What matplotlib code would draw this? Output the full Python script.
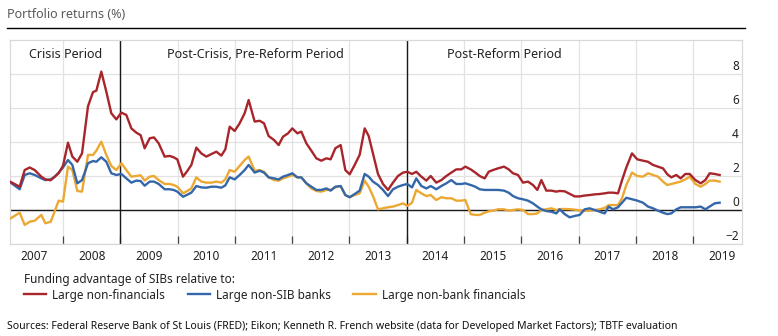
import matplotlib
matplotlib.use('Agg')
import matplotlib.pyplot as plt
import matplotlib.transforms as mtransforms
from matplotlib.lines import Line2D

# ---------------- data ----------------
dates = [
    2007.087, 2007.244, 2007.331, 2007.418, 2007.506, 2007.622, 2007.692, 2007.785,
    2007.855, 2007.924, 2008.000, 2008.087, 2008.163, 2008.250, 2008.332, 2008.436,
    2008.524, 2008.582, 2008.669, 2008.756, 2008.843, 2008.931, 2009.018, 2009.105,
    2009.193, 2009.280, 2009.355, 2009.425, 2009.513, 2009.588, 2009.670, 2009.774,
    2009.862, 2009.931, 2009.995, 2010.094, 2010.170, 2010.240, 2010.327, 2010.414,
    2010.501, 2010.589, 2010.676, 2010.763, 2010.833, 2010.909, 2010.996, 2011.083,
    2011.170, 2011.240,
    2011.345, 2011.432, 2011.508, 2011.589, 2011.682, 2011.764, 2011.839, 2011.927,
    2012.002, 2012.090, 2012.159, 2012.247, 2012.334, 2012.421, 2012.508, 2012.596,
    2012.671, 2012.753, 2012.846, 2012.927, 2013.003, 2013.090, 2013.177, 2013.265,
    2013.335,
    2013.410, 2013.497, 2013.585, 2013.672, 2013.759, 2013.846, 2013.934, 2014.009,
    2014.091, 2014.166, 2014.254, 2014.341, 2014.417, 2014.515, 2014.603, 2014.690,
    2014.777, 2014.864, 2014.952, 2015.021, 2015.115, 2015.196, 2015.272, 2015.359,
    2015.429,
    2015.504, 2015.592, 2015.696, 2015.778, 2015.853, 2015.941, 2016.028, 2016.115,
    2016.202, 2016.278, 2016.348, 2016.435, 2016.522, 2016.610, 2016.668, 2016.755,
    2016.842, 2016.930, 2017.017, 2017.104, 2017.191, 2017.279, 2017.366, 2017.453,
    2017.523,
    2017.599, 2017.686, 2017.756, 2017.831, 2017.930, 2018.023, 2018.122, 2018.209,
    2018.297, 2018.384, 2018.471, 2018.547, 2018.617, 2018.704, 2018.780, 2018.861,
    2018.937, 2019.036, 2019.129, 2019.210, 2019.286, 2019.373, 2019.460,
]

large_non_financials = [
    1.65, 1.37, 2.35, 2.50, 2.35, 1.96, 1.80, 1.75,
    1.96, 2.16, 2.60, 3.96, 3.14, 2.84, 3.33, 6.10,
    6.94, 7.02, 8.14, 6.96, 5.69, 5.33, 5.73, 5.59,
    4.80, 4.55, 4.40, 3.63, 4.22, 4.27, 3.92, 3.14,
    3.18, 3.10, 2.98, 1.96, 2.30, 2.65, 3.67, 3.33,
    3.14, 3.29, 3.43, 3.20, 3.57, 4.90, 4.65, 5.10,
    5.69, 6.47,
    5.20, 5.25, 5.10, 4.35, 4.12, 3.82, 4.31, 4.51,
    4.80, 4.51, 4.61, 3.92, 3.49, 3.04, 2.90, 3.04,
    2.98, 3.63, 3.82, 2.35, 2.10, 2.65, 3.24, 4.80,
    4.35,
    3.33, 2.12, 1.53, 1.18, 1.61, 2.00, 2.20, 2.25,
    2.12, 2.25, 1.96, 1.73, 2.00, 1.61, 1.76, 2.00,
    2.20, 2.39, 2.39, 2.55, 2.39, 2.20, 2.00, 1.86,
    2.25,
    2.35, 2.45, 2.55, 2.39, 2.16, 2.06, 1.61, 1.67,
    1.47, 1.18, 1.76, 1.14, 1.14, 1.08, 1.12, 1.10,
    0.95, 0.80, 0.80, 0.85, 0.88, 0.92, 0.94, 0.98,
    1.02,
    1.02, 0.98, 1.75, 2.50, 3.33, 2.98, 2.90, 2.84,
    2.65, 2.55, 2.45, 2.10, 1.92, 2.06, 1.86, 2.12,
    2.12, 1.76, 1.57, 1.76, 2.16, 2.12, 2.06,
]

large_non_sib_banks = [
    1.61, 1.22, 2.06, 2.16, 2.06, 1.86, 1.76, 1.80,
    1.96, 2.20, 2.50, 2.94, 2.65, 1.57, 1.76, 2.75,
    2.88, 2.84, 3.10, 2.84, 2.16, 2.06, 2.12, 1.86,
    1.61, 1.73, 1.70, 1.43, 1.67, 1.67, 1.53, 1.22,
    1.22, 1.18, 1.08, 0.78, 0.90, 1.02, 1.41, 1.33,
    1.31, 1.37, 1.37, 1.31, 1.45, 1.92, 1.80, 2.06,
    2.35, 2.65,
    2.20, 2.31, 2.20, 1.92, 1.86, 1.80, 1.96, 2.06,
    2.16, 1.92, 1.92, 1.57, 1.37, 1.18, 1.18, 1.27,
    1.14, 1.37, 1.41, 0.88, 0.75, 0.94, 1.14, 2.12,
    1.96,
    1.67, 1.47, 1.18, 0.82, 1.22, 1.37, 1.47, 1.53,
    1.33, 1.86, 1.41, 1.27, 1.41, 1.22, 1.41, 1.57,
    1.76, 1.53, 1.53, 1.57, 1.47, 1.37, 1.22, 1.18,
    1.18,
    1.18, 1.18, 1.14, 1.02, 0.82, 0.69, 0.63, 0.55,
    0.39, 0.20, 0.04, -0.06, -0.10, -0.20, 0.04, -0.24,
    -0.43, -0.35, -0.29, 0.04, 0.10, 0.00, -0.10, -0.20,
    0.20,
    0.04, 0.16, 0.43, 0.72, 0.63, 0.55, 0.43, 0.20,
    0.10, -0.04, -0.16, -0.24, -0.20, 0.04, 0.16, 0.16,
    0.16, 0.16, 0.20, 0.04, 0.20, 0.39, 0.43,
]

large_non_bank_financials = [
    -0.49, -0.16, -0.88, -0.69, -0.63, -0.29, -0.78, -0.69,
    -0.08, 0.55, 0.49, 2.55, 2.35, 1.12, 1.08, 3.24,
    3.24, 3.49, 4.02, 3.24, 2.59, 2.35, 2.75, 2.35,
    1.96, 2.00, 2.04, 1.73, 1.96, 2.00, 1.76, 1.53,
    1.53, 1.47, 1.37, 0.98, 1.12, 1.27, 1.92, 1.67,
    1.61, 1.61, 1.67, 1.61, 1.80, 2.35, 2.25, 2.59,
    2.94, 3.14,
    2.31, 2.35, 2.25, 1.92, 1.76, 1.73, 1.86, 1.96,
    2.06, 1.92, 1.92, 1.57, 1.27, 1.12, 1.08, 1.18,
    1.18, 1.33, 1.41, 0.88, 0.75, 0.88, 0.98, 1.73,
    1.37,
    0.82, 0.04, 0.10, 0.16, 0.20, 0.29, 0.39, 0.24,
    0.43, 1.18, 0.98, 0.82, 0.88, 0.59, 0.75, 0.69,
    0.69, 0.55, 0.55, 0.59, -0.24, -0.29, -0.29, -0.16,
    -0.08,
    -0.04, 0.04, 0.04, -0.04, 0.00, 0.04, 0.00, -0.24,
    -0.24, -0.20, 0.00, 0.04, 0.10, 0.00, 0.05, 0.06,
    0.05, 0.02, -0.02, -0.04, -0.04, 0.00, 0.04, 0.12,
    0.29,
    0.29, 0.29, 0.69, 1.47, 2.20, 2.00, 1.96, 2.16,
    2.06, 1.96, 1.67, 1.47, 1.53, 1.61, 1.67, 1.80,
    1.96, 1.53, 1.37, 1.53, 1.73, 1.73, 1.67,
]

series_names = ['Large non-financials', 'Large non-SIB banks', 'Large non-bank financials']
series_colors = ['#a8262b', '#3467aa', '#eba832']

year_boundaries = list(range(2008, 2020))
year_label_pos = [y + 0.5 for y in range(2007, 2020)]
year_labels = [str(y) for y in range(2007, 2020)]
y_ticks = [-2, 0, 2, 4, 6, 8]
period_breaks = [2009, 2014]
period_names = ['Crisis Period', 'Post-Crisis, Pre-Reform Period', 'Post-Reform Period']
period_label_x = [2008.05, 2011.35, 2015.70]

title = 'Portfolio returns (%)'
legend_title = 'Funding advantage of SIBs relative to:'
source = ('Sources: Federal Reserve Bank of St Louis (FRED); Eikon; Kenneth R. French website '
          '(data for Developed Market Factors); TBTF evaluation')

# ---------------- figure ----------------
plt.rcParams['font.family'] = ['Noto Sans', 'DejaVu Sans']
W, H = 778, 336
fig = plt.figure(figsize=(W / 100, H / 100), dpi=100)

ax = fig.add_axes([10 / W, (H - 244) / H, 732 / W, 204 / H])
ax.set_xlim(2007.075, 2019.85)
ax.set_ylim(-2, 10)

grid_c = '#e2e2e2'
for s in ax.spines.values():
    s.set_color('#d8d8d8')
    s.set_linewidth(0.9)

ax.set_yticks(y_ticks)
ax.set_yticklabels([])
ax.tick_params(axis='y', length=0)
ax.set_xticks(year_boundaries)
ax.set_xticklabels([])
ax.set_xticks(year_label_pos, minor=True)
ax.set_xticklabels(year_labels, minor=True, fontsize=8.5, color='#222222')
ax.tick_params(axis='x', which='major', direction='in', length=6, width=0.9, color='#444444')
ax.tick_params(axis='x', which='minor', length=0, pad=4)
ax.grid(True, which='major', color=grid_c, linewidth=0.9)
ax.set_axisbelow(True)

ax.axhline(0, color='#1a1a1a', lw=1.0, zorder=2)
for b in period_breaks:
    ax.axvline(b, color='#1a1a1a', lw=1.0, zorder=2)

series_values = [large_non_financials, large_non_sib_banks, large_non_bank_financials]
for z, vals, col in zip([5, 4, 3], series_values, series_colors):
    ax.plot(dates, vals, color=col, lw=1.7, zorder=z, solid_joinstyle='round')

# y labels inside, right, above gridline
blend = mtransforms.blended_transform_factory(ax.transAxes, ax.transData)
for v in y_ticks:
    t = mtransforms.offset_copy(blend, fig=fig, x=-3, y=8, units='dots')
    lab = str(v) if v >= 0 else '\u2212' + str(abs(v))
    ax.text(1.0, v, lab, transform=t, ha='right', va='center', fontsize=8.5, color='#222222')

# period labels
for x, name in zip(period_label_x, period_names):
    ax.text(x, 9.12, name, ha='center', va='center', fontsize=9, color='#222222')

# title and rule
fig.text(7 / W, 1 - 15 / H, title, ha='left', va='center', fontsize=9, color='#5a5a5a')
fig.add_artist(Line2D([7 / W, 745 / W], [1 - 28 / H] * 2, color='black', lw=1.0))

# legend
fig.text(24 / W, 1 - 279 / H, legend_title, ha='left', va='center', fontsize=8.5, color='#222222')
handles = [Line2D([], [], color=c, lw=1.7) for c in series_colors]
fig.legend(handles, series_names, loc='center left', bbox_to_anchor=(24 / W, 1 - 295 / H),
           ncol=3, frameon=False, fontsize=8.5, handlelength=1.9, handletextpad=0.5,
           columnspacing=1.9, borderpad=0, borderaxespad=0, labelcolor='#222222')

fig.text(7 / W, 1 - 326 / H, source, ha='left', va='center', fontsize=7.5, color='#111111')

fig.savefig('out.png', dpi=100)
